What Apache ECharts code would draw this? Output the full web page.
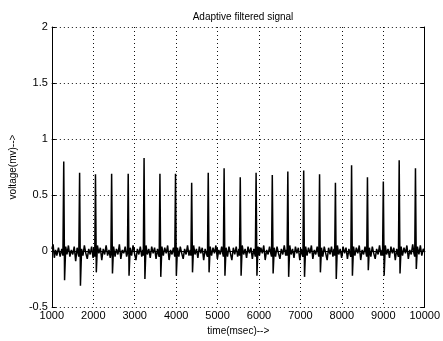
<!DOCTYPE html>
<html>
<head>
<meta charset="utf-8">
<title>Adaptive filtered signal</title>
<script src="https://cdn.jsdelivr.net/npm/echarts@6/dist/echarts.min.js"></script>
<style>
  html, body { margin: 0; padding: 0; background: #fff; }
  #chart { width: 443px; height: 341px; }
</style>
</head>
<body>
<div id="chart"></div>
<script>
// axis ranges / ticks (msec and mV)
const xTicks = [1000, 2000, 3000, 4000, 5000, 6000, 7000, 8000, 9000, 10000]
const yTicks = [-0.5, 0, 0.5, 1, 1.5, 2]

// filtered ECG, [time(msec), voltage(mV)], one row per beat (R peak first)
const signal = [
  [1000, 0.02], [1030, 0.06], [1060, -0.06], [1090, 0.01], [1120, -0.04], [1160, 0.03], [1200, -0.05], [1240, 0.02], [1267, -0.04],
  [1287, 0.80], [1307, -0.26], [1335, 0.04], [1365, -0.03], [1400, 0.05], [1435, -0.05], [1470, 0.01], [1505, -0.03], [1540, 0.04], [1575, -0.09], [1610, 0.03], [1635, -0.02], [1650, -0.05],
  [1670, 0.70], [1690, -0.31], [1718, 0.02], [1750, -0.04], [1785, 0.05], [1820, -0.02], [1855, -0.07], [1890, 0.02], [1925, -0.03], [1960, 0.04], [1995, -0.06], [2020, 0.01], [2035, -0.05],
  [2053, 0.685], [2073, -0.19], [2100, 0.05], [2135, -0.02], [2170, 0.03], [2205, -0.08], [2240, 0.02], [2275, -0.03], [2310, 0.05], [2345, -0.04], [2380, 0.01], [2410, -0.06], [2425, -0.03],
  [2443, 0.69], [2463, -0.20], [2490, 0.04], [2525, -0.05], [2560, 0.02], [2595, -0.03], [2630, 0.06], [2665, -0.07], [2700, 0.01], [2735, -0.02], [2770, 0.04], [2805, -0.05], [2825, -0.02],
  [2843, 0.69], [2863, -0.22], [2890, 0.03], [2925, -0.04], [2960, 0.05], [2995, -0.02], [3030, -0.08], [3065, 0.02], [3100, -0.03], [3135, 0.04], [3170, -0.05], [3195, 0.01], [3208, -0.04],
  [3226, 0.83], [3246, -0.25], [3273, 0.05], [3305, -0.03], [3340, 0.02], [3375, -0.06], [3410, 0.04], [3445, -0.02], [3480, 0.03], [3515, -0.07], [3550, 0.02], [3575, -0.03], [3591, -0.05],
  [3609, 0.69], [3629, -0.23], [3656, 0.04], [3690, -0.04], [3725, 0.03], [3760, -0.02], [3795, 0.05], [3830, -0.08], [3865, 0.01], [3900, -0.03], [3935, 0.03], [3955, -0.02], [3967, -0.05],
  [3985, 0.69], [4005, -0.22], [4032, 0.03], [4065, -0.05], [4100, 0.04], [4135, -0.02], [4170, -0.07], [4205, 0.02], [4240, -0.03], [4275, 0.05], [4310, -0.04], [4340, 0.01], [4357, -0.04],
  [4375, 0.61], [4395, -0.19], [4422, 0.05], [4455, -0.03], [4490, 0.02], [4525, -0.06], [4560, 0.04], [4595, -0.02], [4630, 0.03], [4665, -0.08], [4700, 0.02], [4735, -0.03], [4757, -0.05],
  [4775, 0.70], [4795, -0.19], [4822, 0.04], [4855, -0.04], [4890, 0.03], [4925, -0.02], [4960, 0.05], [4995, -0.07], [5030, 0.01], [5065, -0.03], [5100, 0.04], [5125, -0.02], [5140, -0.05],
  [5158, 0.74], [5178, -0.22], [5205, 0.03], [5240, -0.05], [5275, 0.04], [5310, -0.02], [5345, -0.08], [5380, 0.03], [5415, -0.03], [5450, 0.04], [5485, -0.05], [5515, 0.02], [5530, -0.04],
  [5548, 0.66], [5568, -0.22], [5595, 0.05], [5630, -0.03], [5665, 0.02], [5700, -0.06], [5735, 0.04], [5770, -0.02], [5805, 0.03], [5840, -0.07], [5875, 0.02], [5900, -0.03], [5912, -0.05],
  [5930, 0.70], [5950, -0.22], [5977, 0.04], [6010, -0.04], [6045, 0.03], [6080, -0.02], [6115, 0.05], [6150, -0.08], [6185, 0.01], [6220, -0.03], [6255, 0.04], [6285, -0.02], [6303, -0.05],
  [6321, 0.68], [6341, -0.20], [6368, 0.03], [6400, -0.05], [6435, 0.04], [6470, -0.02], [6505, -0.07], [6540, 0.02], [6575, -0.03], [6610, 0.05], [6645, -0.04], [6665, 0.01], [6678, -0.04],
  [6696, 0.71], [6716, -0.23], [6743, 0.05], [6775, -0.03], [6810, 0.02], [6845, -0.06], [6880, 0.04], [6915, -0.02], [6950, 0.03], [6985, -0.08], [7020, 0.02], [7045, -0.03], [7061, -0.05],
  [7079, 0.72], [7099, -0.23], [7126, 0.04], [7160, -0.04], [7195, 0.03], [7230, -0.02], [7265, 0.05], [7300, -0.07], [7335, 0.01], [7370, -0.03], [7405, 0.04], [7430, -0.02], [7444, -0.05],
  [7462, 0.685], [7482, -0.19], [7509, 0.03], [7540, -0.05], [7575, 0.04], [7610, -0.02], [7645, -0.08], [7680, 0.03], [7715, -0.03], [7750, 0.04], [7785, -0.05], [7810, 0.02], [7827, -0.04],
  [7845, 0.61], [7865, -0.25], [7892, 0.05], [7925, -0.03], [7960, 0.02], [7995, -0.06], [8030, 0.04], [8065, -0.02], [8100, 0.03], [8135, -0.07], [8170, 0.02], [8200, -0.03], [8217, -0.05],
  [8235, 0.765], [8255, -0.22], [8282, 0.04], [8315, -0.04], [8350, 0.03], [8385, -0.02], [8420, 0.05], [8455, -0.08], [8490, 0.01], [8525, -0.03], [8560, 0.04], [8585, -0.02], [8600, -0.05],
  [8618, 0.66], [8638, -0.17], [8665, 0.03], [8700, -0.05], [8735, 0.04], [8770, -0.02], [8805, -0.07], [8840, 0.02], [8875, -0.03], [8910, 0.05], [8945, -0.04], [8970, 0.01], [8983, -0.04],
  [9001, 0.62], [9021, -0.22], [9048, 0.05], [9080, -0.03], [9115, 0.02], [9150, -0.06], [9185, 0.04], [9220, -0.02], [9255, 0.03], [9290, -0.08], [9325, 0.02], [9350, -0.03], [9366, -0.05],
  [9384, 0.81], [9404, -0.20], [9431, 0.04], [9465, -0.04], [9500, 0.03], [9535, -0.02], [9570, 0.05], [9605, -0.07], [9640, 0.01], [9675, -0.03], [9710, 0.06], [9740, -0.02], [9759, -0.05],
  [9777, 0.74], [9797, -0.16], [9824, 0.04], [9860, -0.03], [9895, 0.05], [9930, -0.04], [9965, 0.02], [10000, -0.01],
]

const font = '"Liberation Sans", Arial, sans-serif'
const xStep = xTicks[1] - xTicks[0]
const yStep = yTicks[1] - yTicks[0]

const chart = echarts.init(document.getElementById('chart'))

// shared look of the matlab-ish box axes
const boxLine = { show: true, lineStyle: { color: '#000', width: 1 } }
const inTick = { show: true, inside: true, length: 4, lineStyle: { color: '#000' } }
const gridDots = { show: true, lineStyle: { color: '#111', width: 1, type: [1, 3] } }

chart.setOption({
  animation: false,
  backgroundColor: '#fff',
  title: {
    text: 'Adaptive filtered signal',
    left: 238,
    top: 7,
    textAlign: 'center',
    textStyle: { fontFamily: font, fontSize: 10, fontWeight: 'normal', color: '#000' },
  },
  grid: { left: 50, right: 17, top: 27, bottom: 33, show: false },
  xAxis: [
    {
      type: 'value',
      min: xTicks[0],
      max: xTicks[xTicks.length - 1],
      interval: xStep,
      position: 'bottom',
      axisLine: boxLine,
      axisTick: inTick,
      splitLine: gridDots,
      axisLabel: { color: '#000', fontFamily: font, fontSize: 11, margin: 3, formatter: (v) => String(v) },
      name: 'time(msec)-->',
      nameLocation: 'middle',
      nameGap: 13,
      nameTextStyle: { color: '#000', fontFamily: font, fontSize: 10 },
    },
    {
      type: 'value',
      min: xTicks[0],
      max: xTicks[xTicks.length - 1],
      interval: xStep,
      position: 'top',
      axisLine: boxLine,
      axisTick: inTick,
      splitLine: { show: false },
      axisLabel: { show: false },
    },
  ],
  yAxis: [
    {
      type: 'value',
      min: yTicks[0],
      max: yTicks[yTicks.length - 1],
      interval: yStep,
      position: 'left',
      axisLine: boxLine,
      axisTick: inTick,
      splitLine: gridDots,
      axisLabel: { color: '#000', fontFamily: font, fontSize: 11, margin: 4 },
      name: 'voltage(mv)-->',
      nameLocation: 'middle',
      nameGap: 29,
      nameTextStyle: { color: '#000', fontFamily: font, fontSize: 10 },
    },
    {
      type: 'value',
      min: yTicks[0],
      max: yTicks[yTicks.length - 1],
      interval: yStep,
      position: 'right',
      axisLine: boxLine,
      axisTick: inTick,
      splitLine: { show: false },
      axisLabel: { show: false },
    },
  ],
  series: [
    {
      name: 'filtered',
      type: 'line',
      data: signal,
      showSymbol: false,
      lineStyle: { color: '#000', width: 1.5 },
    },
  ],
})
</script>
</body>
</html>
